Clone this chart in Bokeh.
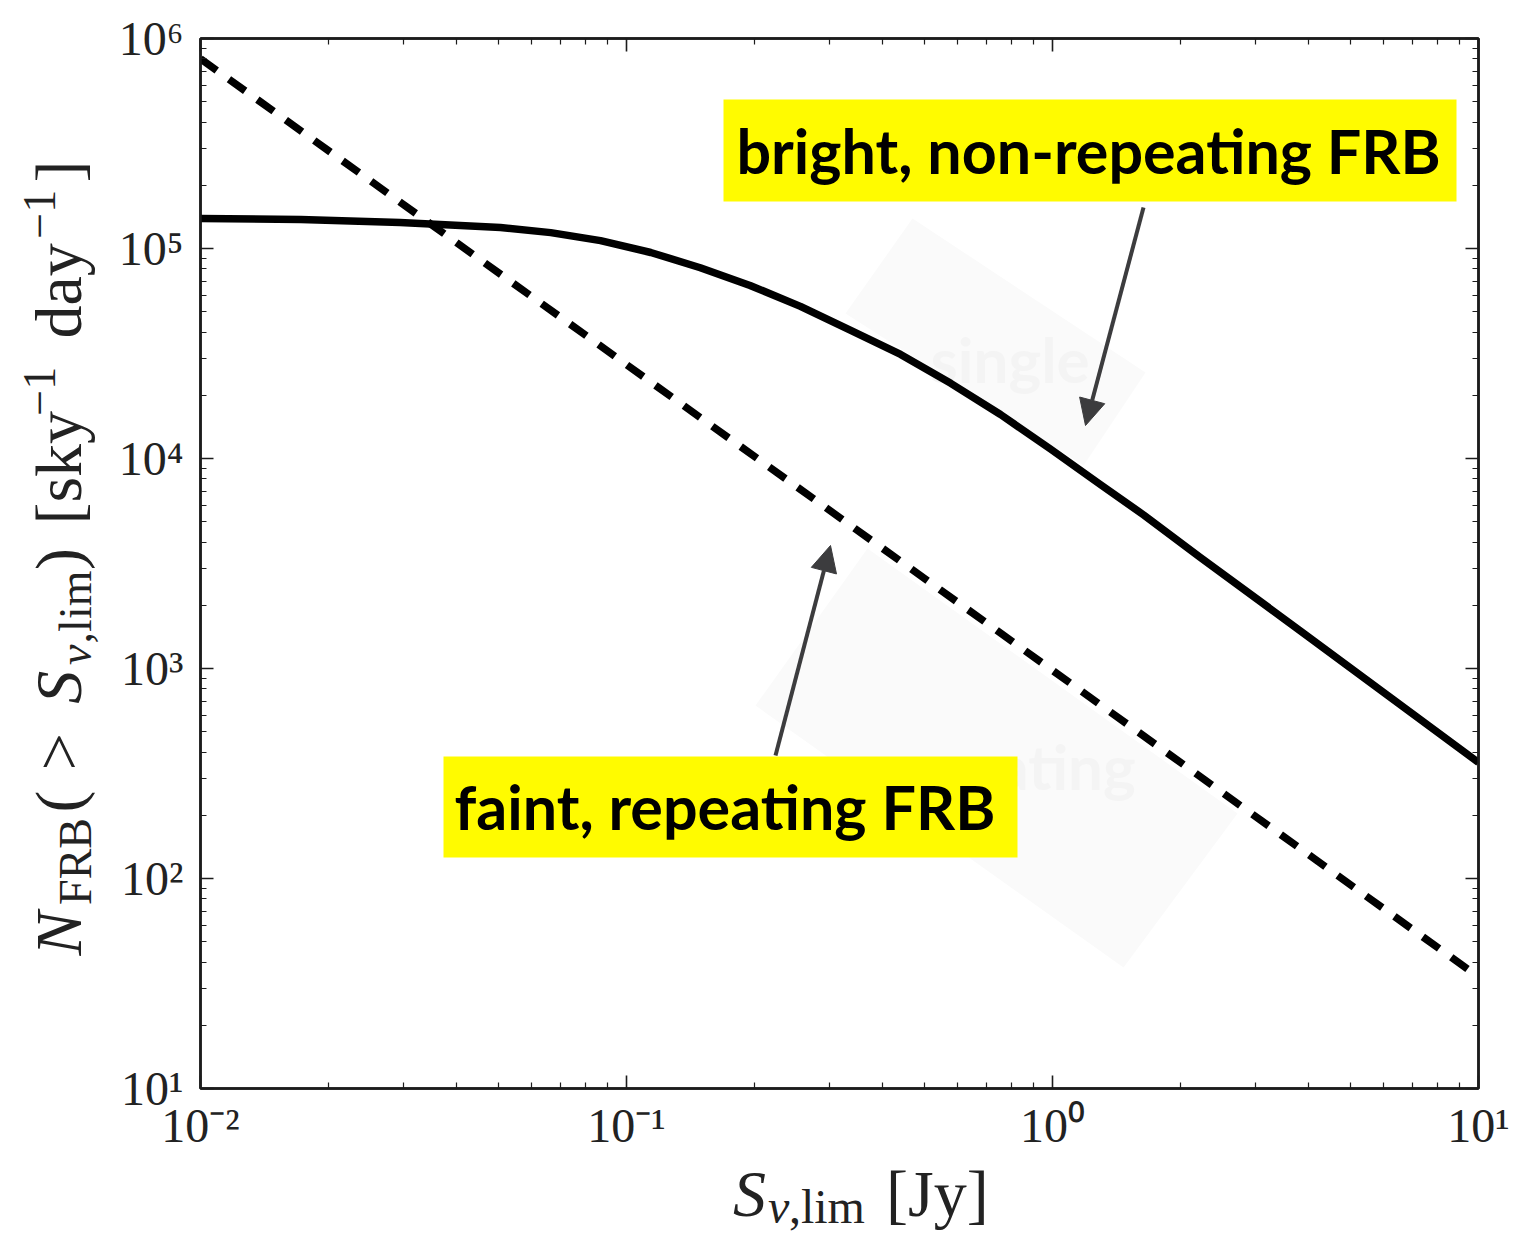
import math

from bokeh.plotting import figure
from bokeh.layouts import row, column
from bokeh.models import (FixedTicker, Label, BoxAnnotation, Arrow, NormalHead,
                          LogAxis, PolyAnnotation)
from bokeh.embed import file_html
from bokeh.resources import INLINE

# ---- data -------------------------------------------------------------
# bright, non-repeating population: cumulative rate vs. limiting flux
flux_single = [0.01, 0.0172, 0.0294, 0.0506, 0.0664, 0.0869, 0.114, 0.149,
               0.195, 0.256, 0.336, 0.44, 0.577, 0.755, 0.989, 1.30, 1.64,
               2.22, 3.82, 10.0]
rate_single = [1.39e5, 1.375e5, 1.33e5, 1.26e5, 1.19e5, 1.09e5, 9.57e4,
               8.1e4, 6.67e4, 5.3e4, 4.07e4, 3.13e4, 2.28e4, 1.62e4, 1.11e4,
               7.48e3, 5.37e3, 3.39e3, 1.51e3, 357]

# faint, repeating population (power law)
flux_repeat = [0.01, 0.1, 1.0, 10.0]
rate_repeat = [8.0e5, 2.8e4, 980, 34]

x_ticks = [0.01, 0.1, 1.0, 10.0]
x_tick_labels = ["10⁻²", "10⁻¹", "10⁰", "10¹"]
y_ticks = [1e1, 1e2, 1e3, 1e4, 1e5, 1e6]
y_tick_labels = ["10¹", "10²", "10³", "10⁴", "10⁵", "10⁶"]

label_bright = "bright, non-repeating FRB"
label_faint = "faint, repeating FRB"

# ---- layout -----------------------------------------------------------
# page: [y-title strip | main plot above x-title strip]
W, H = 1514, 1239
YT_W = 105           # width of the strip holding the vertical title
XT_H = 79            # height of the strip holding the horizontal title
PW, PH = W - YT_W, H - XT_H
FL, FR, FT, FB = 200, 1478, 38, 1088   # frame edges on the page
XLO, XHI = 0.01, 10.0
YLO, YHI = 10.0, 1e6

SERIF = "Liberation Serif"
INK = "#1c1c1c"

p = figure(width=PW, height=PH, x_axis_type="log", y_axis_type="log",
           x_range=(XLO, XHI), y_range=(YLO, YHI),
           output_backend="svg", toolbar_location=None,
           min_border_left=FL - YT_W, min_border_right=W - FR,
           min_border_top=FT, min_border_bottom=PH - FB)
p.grid.visible = False
p.background_fill_color = "white"
p.border_fill_color = "white"
p.outline_line_color = INK
p.outline_line_width = 2.5


def px_to_x(px):
    lo, hi = math.log10(XLO), math.log10(XHI)
    return 10 ** (lo + (hi - lo) * (px - FL) / (FR - FL))


def py_to_y(py):
    lo, hi = math.log10(YLO), math.log10(YHI)
    return 10 ** (hi - (hi - lo) * (py - FT) / (FB - FT))


def minors(lo_exp, hi_exp):
    return [m * 10.0 ** e for e in range(lo_exp, hi_exp) for m in range(2, 10)]


def style_axis(ax, ticks, minor_ticks, labels=None, standoff=12):
    ax.ticker = FixedTicker(ticks=ticks, minor_ticks=minor_ticks)
    ax.axis_line_color = INK
    ax.axis_line_width = 2.5
    ax.major_tick_in = 13
    ax.major_tick_out = 0
    ax.minor_tick_in = 6
    ax.minor_tick_out = 0
    ax.major_tick_line_color = INK
    ax.minor_tick_line_color = INK
    ax.major_tick_line_width = 1.6
    ax.minor_tick_line_width = 1.2
    ax.major_label_text_font = SERIF
    if labels:
        ax.major_label_overrides = dict(zip(ticks, labels))
        ax.major_label_text_font_size = "48px"
        ax.major_label_text_color = "#222222"
        ax.major_label_standoff = standoff
    else:
        # mirrored frame axis: ticks only
        ax.major_label_text_font_size = "1px"
        ax.major_label_text_alpha = 0.0
        ax.major_label_standoff = 0


x_minor = minors(-2, 1)
y_minor = minors(1, 6)
style_axis(p.xaxis[0], x_ticks, x_minor, x_tick_labels, standoff=10)
style_axis(p.yaxis[0], y_ticks, y_minor, y_tick_labels, standoff=17)
top_axis = LogAxis()
right_axis = LogAxis()
style_axis(top_axis, x_ticks, x_minor)
style_axis(right_axis, y_ticks, y_minor)
p.add_layout(top_axis, "above")
p.add_layout(right_axis, "right")

# ---- faint background panels ------------------------------------------
ghosts = [
    ([(912, 218), (1145, 372), (1083, 465), (845, 313)], "single", 930, 378),
    ([(867, 548), (1237, 813), (1123, 967), (755, 705)], "repeating", 873, 785),
]
for corners, word, tx, ty in ghosts:
    p.add_layout(PolyAnnotation(
        xs=[px_to_x(c[0]) for c in corners], ys=[py_to_y(c[1]) for c in corners],
        fill_color="#fafafa", fill_alpha=1.0, line_alpha=0, level="underlay"))
    p.add_layout(Label(x=px_to_x(tx), y=py_to_y(ty - 20), text=word,
                       text_font="Lato", text_font_style="bold",
                       text_font_size="62px", text_color="#f4f4f4",
                       text_baseline="alphabetic", level="underlay"))

# ---- curves -----------------------------------------------------------
p.line(flux_single, rate_single, line_color="black", line_width=7.5,
       line_join="round")
p.line(flux_repeat, rate_repeat, line_color="black", line_width=7.5,
       line_dash="20 15")

# ---- call-out boxes and arrows ----------------------------------------
YELLOW = "#fffb00"
callouts = [
    (label_bright, (723, 1456, 99, 201), (736, 150)),
    (label_faint, (443, 1017, 756, 857), (454, 806)),
]
for text, (l, r, t, b), (tx, ty) in callouts:
    p.add_layout(BoxAnnotation(left=px_to_x(l), right=px_to_x(r),
                               top=py_to_y(t), bottom=py_to_y(b),
                               fill_color=YELLOW, fill_alpha=1.0, line_alpha=0))
    p.add_layout(Label(x=px_to_x(tx), y=py_to_y(ty), text=text,
                       text_font="Lato", text_font_style="bold",
                       text_font_size="61px", text_color="black",
                       text_baseline="alphabetic"))

ARROW = "#3c3c3e"
for (x0, y0), (x1, y1) in [((1143, 207), (1085, 425)), ((775, 755), (830, 545))]:
    p.add_layout(Arrow(x_start=px_to_x(x0), y_start=py_to_y(y0),
                       x_end=px_to_x(x1), y_end=py_to_y(y1),
                       line_color=ARROW, line_width=4,
                       end=NormalHead(size=26, fill_color=ARROW,
                                      line_color=ARROW, line_width=1)))


# ---- axis titles: composed from pieces (italic symbols, sub/superscripts)
# drawn in two plain strips beside the plot
def strip(w, h):
    f = figure(width=w, height=h, x_range=(0, w), y_range=(0, h),
               x_axis_type=None, y_axis_type=None, output_backend="svg",
               toolbar_location=None, min_border=0)
    f.outline_line_color = None
    f.background_fill_color = "white"
    f.border_fill_color = "white"
    return f


ytitle_fig = strip(YT_W, H)
xtitle_fig = strip(PW, XT_H)

# advance widths (em) used to lay the pieces out one after another
ADV = {"N": .803, "S": .613, "F": .653, "R": .736, "B": .708, "(": .389,
       ")": .389, ">": .778, "ν": .49, ",": .278, "l": .278, "i": .278,
       "m": .833, "[": .278, "]": .278, "s": .394, "k": .528, "y": .528,
       "d": .556, "a": .5, "−": .778, "1": .5, "J": .514}
EM = 63.0                      # layout em for full-size pieces
Y_STYLE = {                    # role -> (em scale, render px, shift px)
    "base": (1.0, 66, 0),
    "sub": (0.7, 46, 10),
    "sup": (0.7, 46, -26),
}
X_STYLE = {
    "base": (1.0, 66, 0),
    "sub": (0.75, 48, 6),
}
BASELINE_FIX = 0.36            # label anchor sits this far (em) above baseline


def title_run(fig, origin, pieces, styles, x0, y0, vertical):
    ox, oy = origin
    h = fig.height
    pos = 0.0
    for text, role, italic in pieces:
        if role == "gap":
            pos += text * EM
            continue
        scale, size, shift = styles[role]
        down = shift - BASELINE_FIX * size
        if vertical:
            gx, gy, ang = x0 + down, y0 - pos, math.pi / 2
        else:
            gx, gy, ang = x0 + pos, y0 + down, 0.0
        fig.add_layout(Label(x=gx - ox, y=h - (gy - oy), text=text, angle=ang,
                             text_font=SERIF, text_font_size=f"{size}px",
                             text_font_style="italic" if italic else "normal",
                             text_color="#222222", text_align="left",
                             text_baseline="alphabetic"))
        pos += sum(ADV.get(c, .5) for c in text) * EM * scale


x_title = [("S", "base", True), ("ν", "sub", True), (",lim", "sub", False),
           (0.45, "gap", False), ("[Jy]", "base", False)]
y_title = [("N", "base", True), ("FRB", "sub", False), ("(", "base", False),
           (0.28, "gap", False), (">", "base", False), (0.28, "gap", False),
           ("S", "base", True), ("ν", "sub", True), (",lim", "sub", False),
           (")", "base", False), (0.33, "gap", False),
           ("[sky", "base", False), ("−1", "sup", False),
           (0.33, "gap", False), ("day", "base", False),
           ("−1", "sup", False), ("]", "base", False)]
title_run(xtitle_fig, (YT_W, PH), x_title, X_STYLE, 692, 1217, vertical=False)
title_run(ytitle_fig, (0, 0), y_title, Y_STYLE, 82, 955, vertical=True)

page = row(ytitle_fig, column(p, xtitle_fig, spacing=0), spacing=0)

open("out.html", "w").write(file_html(page, INLINE))
